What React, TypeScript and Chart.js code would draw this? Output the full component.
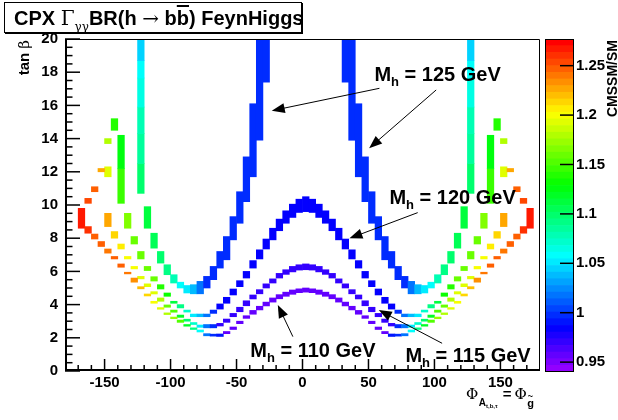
import React, { useEffect, useRef } from "react";
import { Chart, registerables } from "chart.js";
Chart.register(...registerables);

const SANS = '"Liberation Sans", Arial, Helvetica, sans-serif';
const SERIF = '"DejaVu Serif", "Liberation Serif", serif';

// ---------- axes ----------
const PHI_MIN = -180;
const PHI_MAX = 180;
const TANB_MIN = 0;
const TANB_MAX = 20;
const BIN_WIDTH = 5; // width of a phi bin (degrees)
const X_TICKS = [-150, -100, -50, 0, 50, 100, 150];
const Y_TICKS = [0, 2, 4, 6, 8, 10, 12, 14, 16, 18, 20];
const Z_MIN = 0.94;
const Z_MAX = 1.277;
const Z_TICKS = [0.95, 1, 1.05, 1.1, 1.15, 1.2, 1.25];

// ---------- cells: phi bin low edge, tan(beta) low / high, ratio CMSSM/SM ----------
// Mh = 125 GeV
const M125_PHI = [
  -125, -125, -125, -125, -125, -125,
  -120, -115, -110, -105, -100, -95, -90, -85, -80, -75, -70, -65, -60, -55, -50, -45, -40, -35, -30,
  30, 35, 40, 45, 50, 55, 60, 65, 70, 75, 80, 85, 90, 95, 100, 105, 110, 115, 120,
  125, 125, 125, 125, 125, 125,
];
const M125_LO = [
  10.7, 12.5, 14.3, 15.9, 17.65, 18.7,
  8.6, 7.4, 6.5, 5.8, 5.3, 5.0, 4.7, 4.65, 4.65, 5.0, 5.5, 6.2, 6.7, 7.9, 8.9, 10.2, 11.7, 13.9, 17.4,
  17.4, 13.9, 11.7, 10.2, 8.9, 7.9, 6.7, 6.2, 5.5, 5.0, 4.65, 4.65, 4.7, 5.0, 5.3, 5.8, 6.5, 7.4, 8.6,
  10.7, 12.5, 14.3, 15.9, 17.65, 18.7,
];
const M125_HI = [
  12.5, 14.3, 15.9, 17.65, 18.7, 20,
  9.9, 8.3, 7.2, 6.4, 5.8, 5.35, 5.15, 5.2, 5.4, 5.7, 6.3, 7.2, 8.1, 9.3, 10.8, 12.9, 16.1, 20, 20,
  20, 20, 16.1, 12.9, 10.8, 9.3, 8.1, 7.2, 6.3, 5.7, 5.4, 5.2, 5.15, 5.35, 5.8, 6.4, 7.2, 8.3, 9.9,
  12.5, 14.3, 15.9, 17.65, 18.7, 20,
];
const M125_Z = [
  1.1, 1.085, 1.075, 1.062, 1.055, 1.045,
  1.115, 1.105, 1.1, 1.09, 1.075, 1.06, 1.05, 1.035, 1.015, 1.0, 0.997, 0.997, 0.997, 0.997, 0.997, 0.997, 0.997, 0.997, 0.997,
  0.997, 0.997, 0.997, 0.997, 0.997, 0.997, 0.997, 0.997, 0.997, 1.0, 1.015, 1.035, 1.05, 1.06, 1.075, 1.09, 1.1, 1.105, 1.115,
  1.1, 1.085, 1.075, 1.062, 1.055, 1.045,
];

// Mh = 120 GeV
const M120_PHI = [
  -145, -140, -140, -135, -130, -125, -120, -115, -110, -105, -100, -95, -90, -85, -80, -75, -70,
  -65, -60, -55, -50, -45, -40, -35, -30, -25, -20, -15, -10, -5, 0,
  5, 10, 15, 20, 25, 30, 35, 40, 45, 50, 55, 60, 65,
  70, 75, 80, 85, 90, 95, 100, 105, 110, 115, 120, 125, 130, 135, 140, 140, 145,
];
const M120_LO = [
  14.5, 10.1, 12.2, 8.6, 7.65, 6.75, 6.05, 5.42, 4.94, 4.5, 4.08, 3.8, 3.55, 3.27, 3.27, 3.27, 3.47,
  3.73, 4.08, 4.58, 5.08, 5.6, 6.2, 6.75, 7.35, 7.9, 8.45, 8.9, 9.25, 9.55, 9.6,
  9.55, 9.25, 8.9, 8.45, 7.9, 7.35, 6.75, 6.2, 5.6, 5.08, 4.58, 4.08, 3.73,
  3.47, 3.27, 3.27, 3.27, 3.55, 3.8, 4.08, 4.5, 4.94, 5.42, 6.05, 6.75, 7.65, 8.6, 10.1, 12.2, 14.5,
];
const M120_HI = [
  15.2, 12.2, 14.2, 9.5, 8.1, 7.2, 6.3, 5.68, 5.2, 4.7, 4.2, 4.0, 3.67, 3.43, 3.43, 3.43, 3.67,
  4.04, 4.44, 4.94, 5.44, 6.0, 6.65, 7.3, 7.95, 8.6, 9.15, 9.65, 10.05, 10.35, 10.5,
  10.35, 10.05, 9.65, 9.15, 8.6, 7.95, 7.3, 6.65, 6.0, 5.44, 4.94, 4.44, 4.04,
  3.67, 3.43, 3.43, 3.43, 3.67, 4.0, 4.2, 4.7, 5.2, 5.68, 6.3, 7.2, 8.1, 9.5, 12.2, 14.2, 15.2,
];
const M120_Z = [
  1.14, 1.145, 1.125, 1.165, 1.16, 1.16, 1.16, 1.16, 1.14, 1.13, 1.11, 1.09, 1.07, 1.05, 1.035, 1.02, 0.995,
  0.985, 0.985, 0.985, 0.985, 0.985, 0.985, 0.985, 0.985, 0.985, 0.985, 0.985, 0.985, 0.985, 0.985,
  0.985, 0.985, 0.985, 0.985, 0.985, 0.985, 0.985, 0.985, 0.985, 0.985, 0.985, 0.985, 0.985,
  0.995, 1.02, 1.035, 1.05, 1.07, 1.09, 1.11, 1.13, 1.14, 1.16, 1.16, 1.16, 1.16, 1.165, 1.145, 1.125, 1.14,
];

// Mh = 115 GeV
const M115_PHI = [
  -150, -150, -150, -145, -140, -135, -130, -125, -120, -115, -110, -105, -100, -95, -90, -85, -80, -75, -70,
  -65, -60, -55, -50, -45, -40, -35, -30, -25, -20, -15, -10, -5, 0,
  5, 10, 15, 20, 25, 30, 35, 40, 45, 50, 55, 60, 65,
  70, 75, 80, 85, 90, 95, 100, 105, 110, 115, 120, 125, 130, 135, 140, 145, 150, 150, 150,
];
const M115_LO = [
  13.7, 11.7, 8.7, 8.0, 7.35, 6.75, 6.15, 5.55, 5.08, 4.64, 4.2, 3.84, 3.54, 3.23, 3.0, 2.8, 2.63, 2.6, 2.6,
  2.71, 2.93, 3.27, 3.57, 3.93, 4.34, 4.65, 5.0, 5.3, 5.6, 5.82, 5.97, 6.08, 6.1,
  6.08, 5.97, 5.82, 5.6, 5.3, 5.0, 4.65, 4.34, 3.93, 3.57, 3.27, 2.93, 2.71,
  2.6, 2.6, 2.63, 2.8, 3.0, 3.23, 3.54, 3.84, 4.2, 4.64, 5.08, 5.55, 6.15, 6.75, 7.35, 8.0, 8.7, 11.7, 13.7,
];
const M115_HI = [
  14.0, 12.3, 9.5, 8.4, 7.65, 6.9, 6.3, 5.7, 5.25, 4.78, 4.4, 3.98, 3.67, 3.37, 3.12, 2.92, 2.77, 2.8, 2.8,
  2.87, 3.13, 3.47, 3.84, 4.23, 4.58, 4.9, 5.25, 5.55, 5.88, 6.1, 6.3, 6.4, 6.45,
  6.4, 6.3, 6.1, 5.88, 5.55, 5.25, 4.9, 4.58, 4.23, 3.84, 3.47, 3.13, 2.87,
  2.8, 2.8, 2.77, 2.92, 3.12, 3.37, 3.67, 3.98, 4.4, 4.78, 5.25, 5.7, 6.3, 6.9, 7.65, 8.4, 9.5, 12.3, 14.0,
];
const M115_Z = [
  1.18, 1.195, 1.225, 1.215, 1.205, 1.2, 1.2, 1.19, 1.19, 1.19, 1.18, 1.16, 1.15, 1.12, 1.1, 1.07, 1.05, 1.02, 0.995,
  0.97, 0.97, 0.97, 0.97, 0.97, 0.97, 0.97, 0.97, 0.97, 0.97, 0.97, 0.97, 0.97, 0.97,
  0.97, 0.97, 0.97, 0.97, 0.97, 0.97, 0.97, 0.97, 0.97, 0.97, 0.97, 0.97, 0.97,
  0.995, 1.02, 1.05, 1.07, 1.1, 1.12, 1.15, 1.16, 1.18, 1.19, 1.19, 1.19, 1.2, 1.2, 1.205, 1.215, 1.225, 1.195, 1.18,
];

// Mh = 110 GeV
const M110_PHI = [
  -170, -165, -165, -160, -160, -155, -155, -150, -145, -140, -135, -130, -125, -120, -115, -110, -105, -100, -95,
  -90, -85, -80, -75, -70, -65,
  -60, -55, -50, -45, -40, -35, -30, -25, -20, -15, -10, -5, 0,
  5, 10, 15, 20, 25, 30, 35, 40, 45, 50, 55, 60,
  65, 70, 75, 80, 85, 90, 95, 100, 105, 110, 115, 120, 125, 130, 135, 140, 145, 150, 155, 155, 160, 160, 165, 165, 170,
];
const M110_LO = [
  8.6, 8.3, 10.1, 7.95, 10.8, 7.5, 12.0, 7.1, 6.75, 6.25, 5.85, 5.35, 4.95, 4.52, 4.08, 3.72, 3.4, 3.15, 2.93,
  2.7, 2.5, 2.35, 2.12, 2.1, 2.08,
  2.25, 2.5, 2.85, 3.17, 3.42, 3.68, 3.92, 4.15, 4.35, 4.5, 4.62, 4.72, 4.75,
  4.72, 4.62, 4.5, 4.35, 4.15, 3.92, 3.68, 3.42, 3.17, 2.85, 2.5, 2.25,
  2.08, 2.1, 2.12, 2.35, 2.5, 2.7, 2.93, 3.15, 3.4, 3.72, 4.08, 4.52, 4.95, 5.35, 5.85, 6.25, 6.75, 7.1, 7.5, 12.0, 7.95, 10.8, 8.3, 10.1, 8.6,
];
const M110_HI = [
  9.8, 8.7, 10.4, 8.25, 11.1, 7.8, 12.2, 7.35, 6.9, 6.45, 5.95, 5.6, 5.08, 4.64, 4.2, 3.82, 3.5, 3.25, 3.07,
  2.8, 2.6, 2.47, 2.25, 2.22, 2.23,
  2.38, 2.65, 3.0, 3.33, 3.65, 3.9, 4.15, 4.4, 4.6, 4.75, 4.88, 4.95, 5.0,
  4.95, 4.88, 4.75, 4.6, 4.4, 4.15, 3.9, 3.65, 3.33, 3.0, 2.65, 2.38,
  2.23, 2.22, 2.25, 2.47, 2.6, 2.8, 3.07, 3.25, 3.5, 3.82, 4.2, 4.64, 5.08, 5.6, 5.95, 6.45, 6.9, 7.35, 7.8, 12.2, 8.25, 11.1, 8.7, 10.4, 9.8,
];
const M110_Z = [
  1.265, 1.26, 1.255, 1.25, 1.245, 1.245, 1.225, 1.24, 1.245, 1.245, 1.24, 1.235, 1.22, 1.21, 1.2, 1.19, 1.18, 1.17, 1.15,
  1.12, 1.09, 1.06, 1.02, 1.0, 0.99,
  0.955, 0.955, 0.955, 0.955, 0.955, 0.955, 0.955, 0.955, 0.955, 0.955, 0.955, 0.955, 0.955,
  0.955, 0.955, 0.955, 0.955, 0.955, 0.955, 0.955, 0.955, 0.955, 0.955, 0.955, 0.955,
  0.99, 1.0, 1.02, 1.06, 1.09, 1.12, 1.15, 1.17, 1.18, 1.19, 1.2, 1.21, 1.22, 1.235, 1.24, 1.245, 1.245, 1.24, 1.245, 1.225, 1.25, 1.245, 1.26, 1.255, 1.265,
];

// ---------- annotations (data coordinates) ----------
const LABEL_MASSES = ["125", "120", "110", "115"];
const LABEL_AT = [
  { phi: 54.5, tanb: 17.49 },
  { phi: 65.9, tanb: 10.06 },
  { phi: -39.6, tanb: 0.86 },
  { phi: 78.0, tanb: 0.56 },
];
const ARROWS = [
  { from: [58.3, 17.03], to: [-23.3, 15.68] },
  { from: [101.3, 16.93], to: [50.5, 13.42] },
  { from: [87.3, 9.54], to: [35.6, 7.99] },
  { from: [105.8, 1.67], to: [57.8, 3.67] },
  { from: [-7.3, 2.07], to: [-18.7, 3.98] },
];

// ROOT "pretty" palette (50 colours violet -> red)
const N_COLORS = 50;
function paletteColor(i: number) {
  const hue = 280 - (i + 1) * (280 / N_COLORS);
  return `hsl(${hue}, 100%, 50%)`;
}
function zColor(z: number) {
  let i = Math.floor(((z - Z_MIN) / (Z_MAX - Z_MIN)) * N_COLORS);
  i = Math.max(0, Math.min(N_COLORS - 1, i));
  return paletteColor(i);
}

const GROUPS = [
  { phi: M110_PHI, lo: M110_LO, hi: M110_HI, z: M110_Z },
  { phi: M115_PHI, lo: M115_LO, hi: M115_HI, z: M115_Z },
  { phi: M120_PHI, lo: M120_LO, hi: M120_HI, z: M120_Z },
  { phi: M125_PHI, lo: M125_LO, hi: M125_HI, z: M125_Z },
];

const axisDecor = {
  id: "axisDecor",
  afterDatasetsDraw(chart: any) {
    const { ctx, chartArea: a, scales } = chart;
    const x = scales.x;
    const y = scales.y;
    ctx.save();
    ctx.strokeStyle = "#000";
    ctx.lineWidth = 1;
    ctx.beginPath();
    ctx.moveTo(a.left, a.top + 0.5);
    ctx.lineTo(a.right - 0.5, a.top + 0.5);
    ctx.lineTo(a.right - 0.5, a.bottom);
    ctx.stroke();
    ctx.lineWidth = 2;
    ctx.beginPath();
    ctx.moveTo(a.left + 1, a.top);
    ctx.lineTo(a.left + 1, a.bottom - 1);
    ctx.lineTo(a.right, a.bottom - 1);
    ctx.stroke();
    ctx.lineWidth = 1.5;
    for (let k = 0; k <= 40; k++) {
      const v = TANB_MIN + k * 0.5;
      const py = y.getPixelForValue(v);
      const len = k % 4 === 0 ? 15 : 7.5;
      ctx.beginPath();
      ctx.moveTo(a.left, py);
      ctx.lineTo(a.left + len, py);
      ctx.stroke();
    }
    for (let k = 1; k < 36; k++) {
      const v = PHI_MIN + k * 10;
      const px = x.getPixelForValue(v);
      const len = v % 50 === 0 ? 12 : 6;
      ctx.beginPath();
      ctx.moveTo(px, a.bottom);
      ctx.lineTo(px, a.bottom - len);
      ctx.stroke();
    }
    ctx.restore();
  },
};

function drawArrow(ctx: CanvasRenderingContext2D, x0: number, y0: number, x1: number, y1: number) {
  const ang = Math.atan2(y1 - y0, x1 - x0);
  const L = 13;
  const Wd = 5;
  ctx.beginPath();
  ctx.moveTo(x0, y0);
  ctx.lineTo(x1 - Math.cos(ang) * L * 0.8, y1 - Math.sin(ang) * L * 0.8);
  ctx.stroke();
  ctx.beginPath();
  ctx.moveTo(x1, y1);
  ctx.lineTo(x1 - Math.cos(ang) * L - Math.sin(ang) * Wd, y1 - Math.sin(ang) * L + Math.cos(ang) * Wd);
  ctx.lineTo(x1 - Math.cos(ang) * L + Math.sin(ang) * Wd, y1 - Math.sin(ang) * L - Math.cos(ang) * Wd);
  ctx.closePath();
  ctx.fill();
}

const annotations = {
  id: "annotations",
  afterDraw(chart: any) {
    const { ctx, chartArea: a, scales } = chart;
    const x = scales.x;
    const y = scales.y;
    ctx.save();
    ctx.fillStyle = "#000";
    ctx.strokeStyle = "#000";
    ctx.lineWidth = 1;
    ARROWS.forEach((ar) => {
      drawArrow(
        ctx,
        x.getPixelForValue(ar.from[0]),
        y.getPixelForValue(ar.from[1]),
        x.getPixelForValue(ar.to[0]),
        y.getPixelForValue(ar.to[1])
      );
    });
    ctx.textBaseline = "alphabetic";
    ctx.textAlign = "left";
    LABEL_MASSES.forEach((m, i) => {
      let px = x.getPixelForValue(LABEL_AT[i].phi);
      const py = y.getPixelForValue(LABEL_AT[i].tanb);
      ctx.font = `bold 20px ${SANS}`;
      ctx.fillText("M", px, py);
      px += ctx.measureText("M").width;
      ctx.font = `bold 13px ${SANS}`;
      ctx.fillText("h", px, py + 5);
      px += ctx.measureText("h").width;
      ctx.font = `bold 20px ${SANS}`;
      ctx.fillText(` = ${m} GeV`, px, py);
    });

    // y title: tan beta
    ctx.save();
    ctx.translate(29, a.top + 1);
    ctx.rotate(-Math.PI / 2);
    ctx.font = `bold 15px ${SANS}`;
    const wTan = ctx.measureText("tan ").width;
    ctx.font = `15px ${SERIF}`;
    const wB = ctx.measureText("β").width;
    ctx.textAlign = "left";
    ctx.font = `bold 15px ${SANS}`;
    ctx.fillText("tan ", -(wTan + wB), 0);
    ctx.font = `15px ${SERIF}`;
    ctx.fillText("β", -wB, 0);
    ctx.restore();

    // x title: Phi_{A_{t,b,tau}} = Phi_{g~}
    let tx = a.right - 74;
    const ty = 399;
    ctx.font = `15px ${SERIF}`;
    ctx.fillText("Φ", tx, ty);
    tx += ctx.measureText("Φ").width + 0.5;
    ctx.font = `bold 10px ${SANS}`;
    ctx.fillText("A", tx, ty + 7);
    tx += ctx.measureText("A").width;
    ctx.font = `bold 6px ${SANS}`;
    ctx.fillText("t,b,τ", tx, ty + 9);
    tx += ctx.measureText("t,b,τ").width + 5;
    ctx.font = `bold 15px ${SANS}`;
    ctx.fillText("=", tx, ty);
    tx += ctx.measureText("=").width + 3;
    ctx.font = `15px ${SERIF}`;
    ctx.fillText("Φ", tx, ty);
    tx += ctx.measureText("Φ").width + 0.5;
    ctx.font = `bold 11px ${SANS}`;
    ctx.fillText("g", tx, ty + 8);
    ctx.font = `bold 9px ${SANS}`;
    ctx.fillText("~", tx + 0.5, ty - 0.5);
    ctx.restore();
  },
};

const colorbarDecor = {
  id: "colorbarDecor",
  afterDraw(chart: any) {
    const { ctx, chartArea: a, scales } = chart;
    const y = scales.y;
    ctx.save();
    ctx.strokeStyle = "#000";
    ctx.lineWidth = 1;
    ctx.strokeRect(a.left + 0.5, a.top + 0.5, a.right - a.left - 1, a.bottom - a.top - 1);
    ctx.lineWidth = 1.5;
    Z_TICKS.forEach((v) => {
      const py = y.getPixelForValue(v);
      ctx.beginPath();
      ctx.moveTo(a.right - 14, py);
      ctx.lineTo(a.right, py);
      ctx.stroke();
    });
    ctx.translate(chart.width - 1, a.top + 1);
    ctx.rotate(-Math.PI / 2);
    ctx.font = `bold 14px ${SANS}`;
    ctx.fillStyle = "#000";
    ctx.textAlign = "right";
    ctx.textBaseline = "alphabetic";
    ctx.fillText("CMSSM/SM", 0, 0);
    ctx.restore();
  },
};

export default function App() {
  const mainRef = useRef<HTMLCanvasElement>(null);
  const barRef = useRef<HTMLCanvasElement>(null);

  useEffect(() => {
    const tickFont = { family: SANS, size: 15, weight: "bold" as const };
    const noGrid = { display: false, drawTicks: false };
    const main = new Chart(mainRef.current as HTMLCanvasElement, {
      type: "bar",
      data: {
        datasets: GROUPS.map((g) => ({
          data: g.phi.map((p, i) => ({ x: p + BIN_WIDTH / 2, y: [g.lo[i], g.hi[i]] })) as any,
          backgroundColor: g.z.map(zColor),
          borderWidth: 0,
          grouped: false,
          barPercentage: 1,
          categoryPercentage: 1,
        })),
      },
      options: {
        animation: false,
        responsive: false,
        layout: { padding: { left: 0, right: 78, top: 39, bottom: 0 } },
        plugins: { legend: { display: false }, tooltip: { enabled: false } },
        scales: {
          x: {
            type: "linear",
            min: PHI_MIN,
            max: PHI_MAX,
            offset: false,
            grid: noGrid,
            border: { display: false },
            ticks: {
              font: tickFont,
              color: "#000",
              padding: 3,
              maxRotation: 0,
              autoSkip: false,
              callback: (v: any) => String(v),
            },
            afterBuildTicks: (s: any) => {
              s.ticks = X_TICKS.map((value) => ({ value }));
            },
            afterFit: (s: any) => {
              s.height = 49;
            },
          },
          y: {
            type: "linear",
            min: TANB_MIN,
            max: TANB_MAX,
            grid: noGrid,
            border: { display: false },
            ticks: {
              font: tickFont,
              color: "#000",
              padding: 7,
              autoSkip: false,
              callback: (v: any) => String(v),
            },
            afterBuildTicks: (s: any) => {
              s.ticks = Y_TICKS.map((value) => ({ value }));
            },
            afterFit: (s: any) => {
              s.width = 65;
            },
          },
        },
      },
      plugins: [axisDecor, annotations],
    });

    const dz = (Z_MAX - Z_MIN) / N_COLORS;
    const bands = Array.from({ length: N_COLORS }, (_, i) => i);
    const bar = new Chart(barRef.current as HTMLCanvasElement, {
      type: "bar",
      data: {
        labels: [""],
        datasets: bands.map((i) => ({
          data: [[Z_MIN + i * dz, Z_MIN + (i + 1) * dz]] as any,
          backgroundColor: paletteColor(i),
          borderWidth: 0,
          grouped: false,
          barPercentage: 1,
          categoryPercentage: 1,
        })),
      },
      options: {
        animation: false,
        responsive: false,
        layout: { padding: { left: 5, right: 0, top: 39, bottom: 48 } },
        plugins: { legend: { display: false }, tooltip: { enabled: false } },
        scales: {
          x: { display: false },
          y: {
            type: "linear",
            position: "right",
            min: Z_MIN,
            max: Z_MAX,
            grid: noGrid,
            border: { display: false },
            ticks: {
              font: tickFont,
              color: "#000",
              padding: 2,
              autoSkip: false,
              callback: (v: any) => String(v),
            },
            afterBuildTicks: (s: any) => {
              s.ticks = Z_TICKS.map((value) => ({ value }));
            },
            afterFit: (s: any) => {
              s.width = 44;
            },
          },
        },
      },
      plugins: [colorbarDecor],
    });

    return () => {
      main.destroy();
      bar.destroy();
    };
  }, []);

  const greek = { fontFamily: SERIF, fontWeight: "normal" as const };
  return (
    <div
      style={{
        position: "absolute",
        left: 0,
        top: 0,
        width: 618,
        height: 420,
        background: "#fff",
        overflow: "hidden",
      }}
    >
      <canvas ref={mainRef} width={618} height={420} style={{ position: "absolute", left: 0, top: 0 }} />
      <canvas ref={barRef} width={78} height={420} style={{ position: "absolute", left: 540, top: 0 }} />
      <div
        style={{
          position: "absolute",
          left: 4,
          top: 2,
          width: 298,
          height: 31,
          boxSizing: "border-box",
          border: "1px solid #000",
          boxShadow: "1px 1px 0 #000",
          background: "#fff",
          fontFamily: SANS,
          fontWeight: "bold",
          fontSize: 20,
          lineHeight: "29px",
          paddingLeft: 9,
          paddingTop: 1,
          whiteSpace: "nowrap",
          color: "#000",
        }}
      >
        CPX{" "}
        <span style={greek}>Γ</span>
        <span style={{ ...greek, fontSize: 12, position: "relative", top: 6 }}>γγ</span>
        BR(h <span style={greek}>→</span> b<span style={{ textDecoration: "overline" }}>b</span>) FeynHiggs
      </div>
    </div>
  );
}
